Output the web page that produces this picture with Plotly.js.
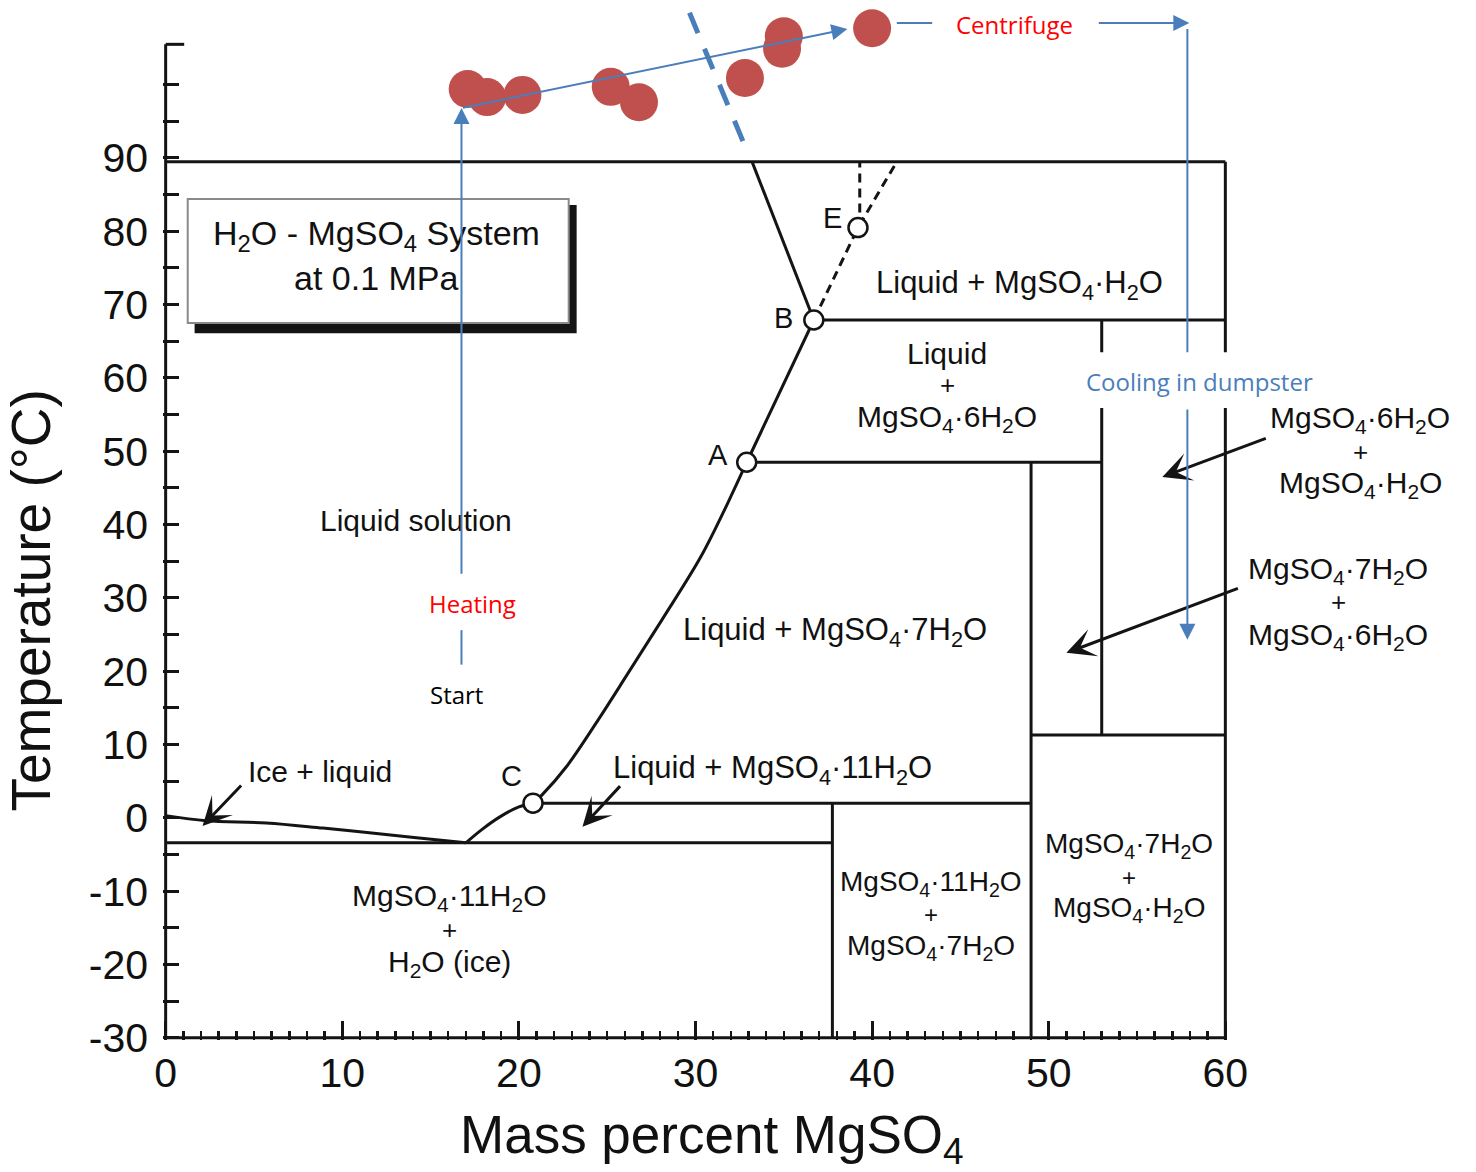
<!DOCTYPE html>
<html><head><meta charset="utf-8">
<script src="https://cdn.plot.ly/plotly-3.0.1.min.js"></script>
<style>html,body{margin:0;padding:0;background:#fff}#chart{width:1476px;height:1172px}</style>
</head><body><div id="chart"></div>
<script>
const INK = '#141414';
const TXT = '#111111';
const BLUE = '#4A7EBB';
const DOT_RED = '#C0504D';
const TXT_RED = '#FF0000';
const FONT = 'Liberation Sans, Arial, Helvetica, sans-serif';
const OFFICE = 'Open Sans, Noto Sans, sans-serif';

// ---- axes ----
const xRange = [-0.15, 60.15];
const yRange = [-30.3, 111];
const xTickVals = [0, 10, 20, 30, 40, 50, 60];
const xMinorVals = [1,2,3,4,5,6,7,8,9,11,12,13,14,15,16,17,18,19,21,22,23,24,25,26,27,28,29,
  31,32,33,34,35,36,37,38,39,41,42,43,44,45,46,47,48,49,51,52,53,54,55,56,57,58,59];
const yTickVals = [-30,-20,-10,0,10,20,30,40,50,60,70,80,90];
const yTickText = ['-30','-20','-10','0','10','20','30','40','50','60','70','80','90'];
const yMinorVals = [-25,-15,-5,5,15,25,35,45,55,65,75,85,95,100];

// ---- frame (mass % MgSO4, °C) ----
const frameX = [0, 60];
const frameBottom = -30, frameTop = 89.5, spineTop = 105.5;

// ---- phase boundaries ----
const iceX = [0, 2.3, 5.7, 8.9, 11.4, 14.2, 17.0];
const iceY = [0.3, -0.4, -0.7, -1.4, -2.0, -2.7, -3.4];
const eutToCX = [17.0, 17.9, 18.9, 20.0, 20.8];
const eutToCY = [-3.4, -1.6, 0.1, 1.5, 2.0];
const cToAX = [20.8, 21.3, 22.7, 24.5, 26.2, 28.1, 30.3, 31.8, 32.9];
const cToAY = [2.0, 3.1, 7.0, 13.4, 19.8, 27.0, 35.6, 42.8, 48.5];
const aToBX = [32.9, 36.7];
const aToBY = [48.5, 67.9];
const bToTopX = [36.7, 33.2];
const bToTopY = [67.9, 89.5];
const dashBEX = [36.7, 39.2, 41.4];
const dashBEY = [67.9, 80.5, 89.5];
const dashEX = [39.3, 39.3];
const dashEY = [80.5, 89.5];
// isotherms [x0, x1, T] and composition lines [x, T0, T1]
const isoX0 = [0, 20.8, 32.9, 36.7, 49.0];
const isoX1 = [37.75, 49.0, 53.0, 60, 60];
const isoT  = [-3.4, 2.0, 48.5, 67.9, 11.3];
const compX  = [37.75, 49.0, 53.0];
const compT0 = [-30, -30, 11.3];
const compT1 = [2.0, 48.5, 67.9];

// ---- invariant points ----
const ptX = [20.8, 32.9, 36.7, 39.2];
const ptY = [2.0, 48.5, 67.9, 80.5];
const ptName = ['C', 'A', 'B', 'E'];
const ptLabelX = [19.6, 31.25, 34.98, 37.75];
const ptLabelY = [5.7, 49.5, 68.2, 81.8];

// ---- process overlay (red samples) ----
const dotX = [17.1, 18.2, 20.2, 25.2, 26.8, 32.8, 34.9, 35.0, 40.0];
const dotY = [99.4, 98.3, 98.6, 99.7, 97.6, 100.9, 104.9, 106.6, 107.7];

// process path
const heatX = 16.75;
const heatLowY = [20.9, 25.6];
const heatArrowY = [33.1, 96.8];
const diagX = [16.75, 38.6];
const diagY = [96.8, 107.6];
const centY = 108.4;
const centLineX = [41.4, 43.4];
const centArrowX = [52.75, 57.96];
const coolX = 57.85;
const coolTopY = [107.6, 63.5];
const coolArrowY = [55.9, 24.3];
const coolBoxX = [51.5, 62];
const coolBoxY = [55.9, 63.5];
const splitX = [29.66, 32.89];
const splitY = [109.8, 91.1];

// ---- title box ----
const boxX = [1.25, 22.82], boxY = [67.5, 84.4];
const shadowX = [1.64, 23.27], shadowY = [66.1, 83.6];

// ---- region labels ----
const labText = [
  'Liquid solution',
  'Liquid + MgSO<sub>4</sub>·H<sub>2</sub>O',
  'Liquid', '+', 'MgSO<sub>4</sub>·6H<sub>2</sub>O',
  'Liquid + MgSO<sub>4</sub>·7H<sub>2</sub>O',
  'Liquid + MgSO<sub>4</sub>·11H<sub>2</sub>O',
  'Ice + liquid',
  'MgSO<sub>4</sub>·11H<sub>2</sub>O', '+', 'H<sub>2</sub>O (ice)',
  'MgSO<sub>4</sub>·11H<sub>2</sub>O', '+', 'MgSO<sub>4</sub>·7H<sub>2</sub>O',
  'MgSO<sub>4</sub>·7H<sub>2</sub>O', '+', 'MgSO<sub>4</sub>·H<sub>2</sub>O',
  'H<sub>2</sub>O - MgSO<sub>4</sub> System', 'at 0.1 MPa'
];
const labX = [14.15, 48.34, 44.26, 44.26, 44.26, 37.92, 34.36, 8.72, 16.08, 16.08, 16.08, 43.36, 43.36, 43.36, 54.56, 54.56, 54.56, 11.94, 11.94];
const labY = [40.6, 72.7, 63.4, 59.0, 54.5, 25.4, 6.5, 6.3, -10.8, -15.3, -19.8, -8.9, -13.2, -17.7, -3.8, -8.2, -12.5, 79.4, 73.6];
const labSize = [30, 31, 30, 26, 30, 31, 31, 30, 30, 26, 30, 28, 24, 28, 28, 24, 28, 34, 34];

// labels right of the frame (paper x)
const sideText = ['MgSO<sub>4</sub>·6H<sub>2</sub>O', '+', 'MgSO<sub>4</sub>·H<sub>2</sub>O',
                  'MgSO<sub>4</sub>·7H<sub>2</sub>O', '+', 'MgSO<sub>4</sub>·6H<sub>2</sub>O'];
const sidePX = [1.124, 1.124, 1.124, 1.1033, 1.1033, 1.1033];
const sideY = [54.3, 49.9, 45.4, 33.8, 29.5, 24.8];
const sideSize = [30, 26, 30, 30, 26, 30];

// black pointer arrows: head (x,y) and tail offset in px
const ptrX = [2.09, 23.6, 56.43, 51.0];
const ptrY = [-1.1, -1.2, 46.5, 22.5];
const ptrAX = [40, 39, 105, 173];
const ptrAY = [-42, -42, -39, -65];

// ---------- build ----------
const segX = [], segY = [];
for (let i = 0; i < isoT.length; i++) { segX.push(isoX0[i], isoX1[i], null); segY.push(isoT[i], isoT[i], null); }
for (let i = 0; i < compX.length; i++) { segX.push(compX[i], compX[i], null); segY.push(compT0[i], compT1[i], null); }
[[aToBX, aToBY], [bToTopX, bToTopY]].forEach(([xs, ys]) => { segX.push(...xs, null); segY.push(...ys, null); });

const curveX = [...iceX, null, ...eutToCX, null, ...cToAX];
const curveY = [...iceY, null, ...eutToCY, null, ...cToAY];

const traces = [
  {x: segX, y: segY, mode: 'lines', line: {color: INK, width: 3}, hoverinfo: 'skip', showlegend: false},
  {x: curveX, y: curveY, mode: 'lines', line: {color: INK, width: 3, shape: 'spline', smoothing: 1}, hoverinfo: 'skip', showlegend: false},
  {x: [...dashBEX, null, ...dashEX], y: [...dashBEY, null, ...dashEY], mode: 'lines',
   line: {color: INK, width: 3, dash: '9px,6px'}, hoverinfo: 'skip', showlegend: false},
  {x: ptX, y: ptY, mode: 'markers', marker: {size: 19, color: '#fff', line: {color: INK, width: 2.5}},
   hoverinfo: 'skip', showlegend: false},
  {x: dotX, y: dotY, mode: 'markers', marker: {size: 38, color: DOT_RED}, cliponaxis: false,
   hoverinfo: 'skip', showlegend: false}
];

const shapes = [];
const ln = (x0, y0, x1, y1, color, width, dash) => ({type: 'line', xref: 'x', yref: 'y', x0, y0, x1, y1,
  line: {color, width, dash: dash || 'solid'}});
// frame
shapes.push(ln(frameX[0], frameBottom, frameX[0], spineTop, INK, 3));
shapes.push(ln(frameX[0], spineTop, 1.05, spineTop, INK, 3));
shapes.push(ln(frameX[0], frameBottom, frameX[1], frameBottom, INK, 3));
shapes.push(ln(frameX[1], frameBottom, frameX[1], frameTop, INK, 3));
shapes.push(ln(frameX[0], frameTop, frameX[1], frameTop, INK, 3));
// title box with shadow
shapes.push({type: 'rect', xref: 'x', yref: 'y', x0: shadowX[0], x1: shadowX[1], y0: shadowY[0], y1: shadowY[1],
  fillcolor: INK, line: {width: 0}});
shapes.push({type: 'rect', xref: 'x', yref: 'y', x0: boxX[0], x1: boxX[1], y0: boxY[0], y1: boxY[1],
  fillcolor: '#fff', line: {color: '#8a8a8a', width: 2}});
// white cover behind "Cooling in dumpster"
shapes.push({type: 'rect', xref: 'x', yref: 'y', x0: coolBoxX[0], x1: coolBoxX[1], y0: coolBoxY[0], y1: coolBoxY[1],
  fillcolor: '#fff', line: {width: 0}});
// blue process lines
shapes.push(ln(heatX, heatLowY[0], heatX, heatLowY[1], BLUE, 2));
shapes.push(ln(centLineX[0], centY, centLineX[1], centY, BLUE, 2));
shapes.push(ln(coolX, coolTopY[0], coolX, coolTopY[1], BLUE, 2));
shapes.push(ln(splitX[0], splitY[0], splitX[1], splitY[1], BLUE, 5, '22px,17px'));

const annotations = [];
// region labels
for (let i = 0; i < labText.length; i++) {
  annotations.push({x: labX[i], y: labY[i], xref: 'x', yref: 'y', text: labText[i], showarrow: false,
    xanchor: 'center', yanchor: 'middle', font: {family: FONT, size: labSize[i], color: TXT}});
}
for (let i = 0; i < sideText.length; i++) {
  annotations.push({x: sidePX[i], y: sideY[i], xref: 'paper', yref: 'y', text: sideText[i], showarrow: false,
    xanchor: 'center', yanchor: 'middle', font: {family: FONT, size: sideSize[i], color: TXT}});
}
for (let i = 0; i < ptName.length; i++) {
  annotations.push({x: ptLabelX[i], y: ptLabelY[i], xref: 'x', yref: 'y', text: ptName[i], showarrow: false,
    xanchor: 'center', yanchor: 'middle', font: {family: FONT, size: 29, color: TXT}});
}
// black pointer arrows
for (let i = 0; i < ptrX.length; i++) {
  annotations.push({x: ptrX[i], y: ptrY[i], xref: 'x', yref: 'y', ax: ptrAX[i], ay: ptrAY[i], text: '',
    showarrow: true, arrowhead: 3, arrowsize: 1.6, arrowwidth: 3, arrowcolor: INK});
}
// blue process arrows
const blueArrow = (x, y, ax, ay) => ({x, y, ax, ay, xref: 'x', yref: 'y', axref: 'x', ayref: 'y', text: '',
  showarrow: true, arrowhead: 2, arrowsize: 1.6, arrowwidth: 2, arrowcolor: BLUE});
annotations.push(blueArrow(heatX, heatArrowY[1], heatX, heatArrowY[0]));
annotations.push(blueArrow(diagX[1], diagY[1], diagX[0], diagY[0]));
annotations.push(blueArrow(centArrowX[1], centY, centArrowX[0], centY));
annotations.push(blueArrow(coolX, coolArrowY[1], coolX, coolArrowY[0]));
// process texts
annotations.push({x: 17.38, y: 29.2, xref: 'x', yref: 'y', text: 'Heating', showarrow: false,
  font: {family: OFFICE, size: 24, color: TXT_RED}});
annotations.push({x: 16.47, y: 16.8, xref: 'x', yref: 'y', text: 'Start', showarrow: false,
  font: {family: OFFICE, size: 24, color: '#000'}});
annotations.push({x: 48.06, y: 108.2, xref: 'x', yref: 'y', text: 'Centrifuge', showarrow: false,
  font: {family: OFFICE, size: 24, color: TXT_RED}});
annotations.push({x: 58.53, y: 59.5, xref: 'x', yref: 'y', text: 'Cooling in dumpster', showarrow: false,
  font: {family: OFFICE, size: 24, color: BLUE}});
// axis titles
annotations.push({x: 30.96, y: -0.0946, xref: 'x', yref: 'paper', text: 'Mass percent MgSO<sub>4</sub>',
  showarrow: false, xanchor: 'center', yanchor: 'middle', font: {family: FONT, size: 53, color: TXT}});
annotations.push({x: -0.1235, y: 29.7, xref: 'paper', yref: 'y', text: 'Temperature (°C)', textangle: -90,
  showarrow: false, xanchor: 'center', yanchor: 'middle', font: {family: FONT, size: 55, color: TXT}});

const layout = {
  width: 1476, height: 1172,
  margin: {l: 163, r: 248, t: 4, b: 132},
  paper_bgcolor: '#fff', plot_bgcolor: '#fff',
  showlegend: false,
  xaxis: {range: xRange, showgrid: false, zeroline: false, showline: false,
    tickmode: 'array', tickvals: xTickVals, ticks: 'inside', ticklen: 19, tickwidth: 3, tickcolor: INK,
    ticklabelstandoff: 5,
    tickfont: {family: FONT, size: 41, color: TXT},
    minor: {tickmode: 'array', tickvals: xMinorVals, ticks: 'inside', ticklen: 9, tickwidth: 2.5, tickcolor: INK, showgrid: false}},
  yaxis: {range: yRange, showgrid: false, zeroline: false, showline: false,
    tickmode: 'array', tickvals: yTickVals, ticktext: yTickText, ticks: 'inside', ticklen: 16, tickwidth: 3, tickcolor: INK,
    ticklabelstandoff: 14,
    tickfont: {family: FONT, size: 41, color: TXT},
    minor: {tickmode: 'array', tickvals: yMinorVals, ticks: 'inside', ticklen: 16, tickwidth: 3, tickcolor: INK, showgrid: false}},
  shapes, annotations
};

Plotly.newPlot('chart', traces, layout, {displayModeBar: false, staticPlot: true});
</script></body></html>
